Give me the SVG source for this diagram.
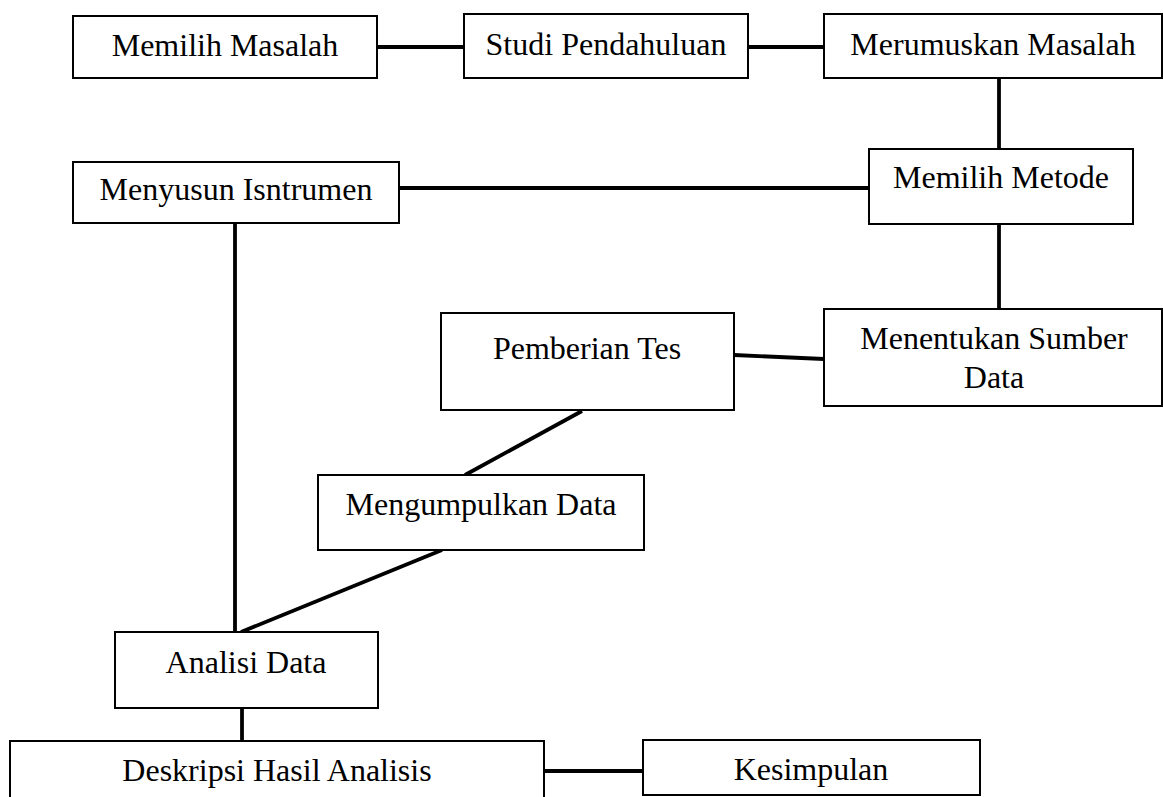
<svg xmlns="http://www.w3.org/2000/svg" width="1163" height="797" viewBox="0 0 1163 797">
<style>
.box{fill:#fff;stroke:#000;stroke-width:2}
.lbl{font-family:"Liberation Serif","Times New Roman",serif;font-size:32px;fill:#000;text-anchor:middle}
.con{stroke:#000;stroke-width:3.8;fill:none}
</style>
<rect width="1163" height="797" fill="#fff"/>
<g id="connectors">
<line class="con" x1="377" y1="47" x2="464" y2="47"/>
<line class="con" x1="748" y1="47" x2="824" y2="47"/>
<line class="con" x1="999" y1="78" x2="999" y2="149"/>
<line class="con" x1="399" y1="188" x2="869" y2="188"/>
<line class="con" x1="999" y1="224" x2="999" y2="313"/>
<line class="con" x1="734" y1="355" x2="824" y2="359"/>
<line class="con" x1="235" y1="223" x2="235" y2="632"/>
<line class="con" x1="582" y1="411" x2="465" y2="475"/>
<line class="con" x1="442" y1="550" x2="241" y2="632"/>
<line class="con" x1="242" y1="708" x2="242" y2="741"/>
<line class="con" x1="544" y1="771" x2="643" y2="771"/>
</g>
<g id="memilih-masalah"><rect class="box" x="73" y="16" width="304" height="62"/><text class="lbl" x="225" y="56">Memilih Masalah</text></g>
<g id="studi-pendahuluan"><rect class="box" x="464" y="14" width="284" height="64"/><text class="lbl" x="606" y="55">Studi Pendahuluan</text></g>
<g id="merumuskan-masalah"><rect class="box" x="824" y="14" width="338" height="64"/><text class="lbl" x="993" y="55">Merumuskan Masalah</text></g>
<g id="menyusun-instrumen"><rect class="box" x="73" y="162" width="326" height="61"/><text class="lbl" x="236" y="200">Menyusun Isntrumen</text></g>
<g id="memilih-metode"><rect class="box" x="869" y="149" width="264" height="75"/><text class="lbl" x="1001" y="188">Memilih Metode</text></g>
<g id="menentukan-sumber-data"><rect class="box" x="824" y="309" width="338" height="97"/><text class="lbl" x="994" y="349">Menentukan Sumber</text><text class="lbl" x="994" y="388">Data</text></g>
<g id="pemberian-tes"><rect class="box" x="441" y="313" width="293" height="97"/><text class="lbl" x="587" y="359">Pemberian Tes</text></g>
<g id="mengumpulkan-data"><rect class="box" x="318" y="475" width="326" height="75"/><text class="lbl" x="481" y="515">Mengumpulkan Data</text></g>
<g id="analisi-data"><rect class="box" x="115" y="632" width="263" height="76"/><text class="lbl" x="246" y="673">Analisi Data</text></g>
<g id="deskripsi-hasil-analisis"><rect class="box" x="10" y="741" width="534" height="80"/><text class="lbl" x="277" y="781">Deskripsi Hasil Analisis</text></g>
<g id="kesimpulan"><rect class="box" x="643" y="740" width="337" height="55"/><text class="lbl" x="811" y="780">Kesimpulan</text></g>
</svg>
